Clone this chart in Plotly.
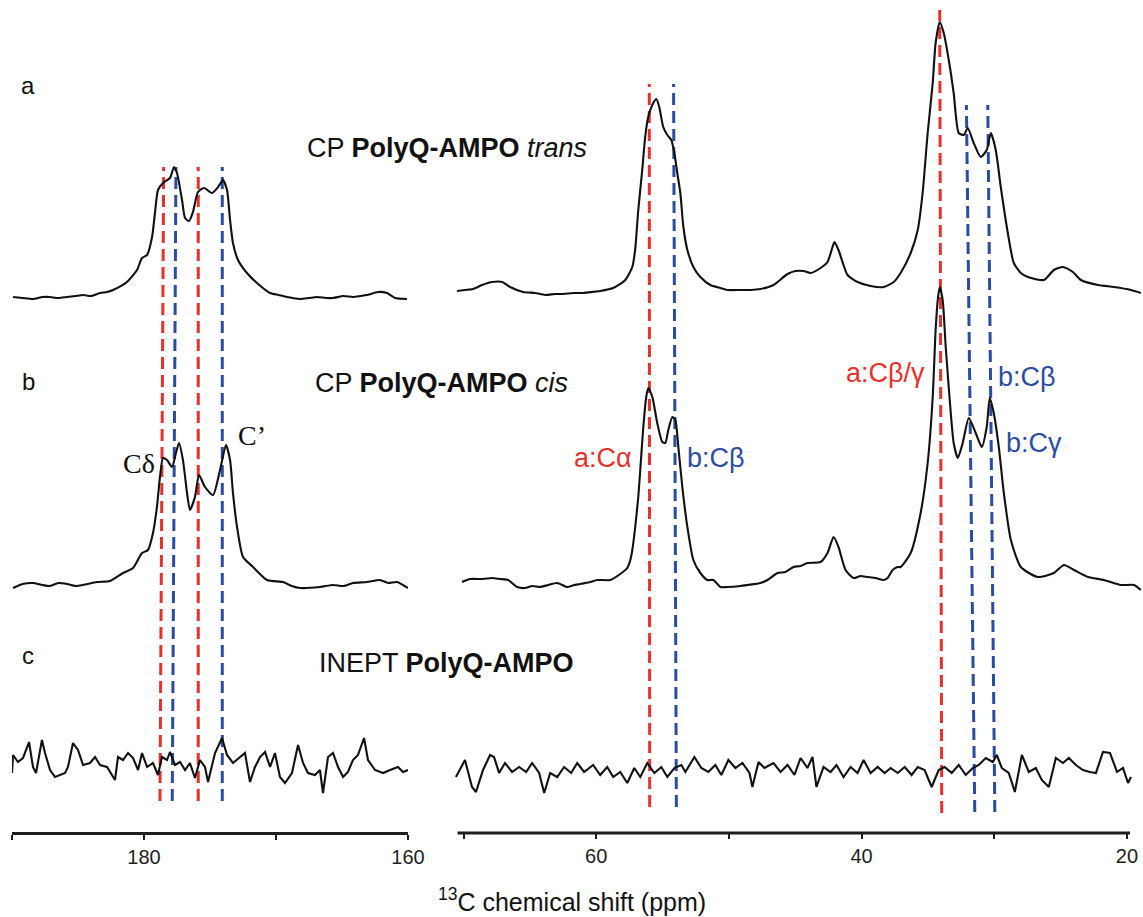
import plotly.graph_objects as go

# ---------------------------------------------------------------------------
# 13C spectra of PolyQ-AMPO (ppm, intensity in arbitrary units above baseline)
# ---------------------------------------------------------------------------

# (a) CP PolyQ-AMPO trans
A_LEFT_PPM = [189.92, 189.2, 188.41, 187.7, 187.12, 186.5, 185.83, 185.2, 184.62, 184.0, 183.33, 182.8,
              182.35, 181.29, 180.53, 180.15, 179.77, 179.39, 179.17, 178.94, 178.56, 178.03, 177.73,
              177.50, 177.12, 176.89, 176.59, 176.29, 175.91, 175.45, 174.85, 174.39, 174.02, 173.71,
              173.48, 173.26, 172.88, 172.20, 171.44, 170.45, 169.8, 169.17, 168.18, 167.5, 166.89,
              166.2, 165.68, 164.9, 164.17, 163.6, 163.11, 162.27, 161.59, 160.98, 160.08]
A_LEFT_INT = [-1, -2, -3, -1, -1, -2, -1, 0, 1, 0, 3, 4,
              6, 14, 26, 38, 41, 59, 83, 106, 113, 118, 129,
              123, 96, 78, 75, 84, 104, 108, 103, 109, 116, 106,
              76, 53, 36, 23, 13, 3, 1, -1, -3, -2, -1,
              -2, -2, 0, -1, 0, 1, 4, 3, -2, -3]

A_RIGHT_PPM = [70.49, 69.89, 69.28, 68.60, 67.85, 67.09, 66.49, 65.51, 64.60, 63.85, 63.09, 62.49,
               61.74, 60.98, 60.30, 59.70, 58.72, 57.81, 57.28, 57.06, 56.83, 56.53, 56.31, 56.08,
               55.70, 55.47, 55.25, 54.95, 54.64, 54.34, 54.11, 53.89, 53.66, 53.43, 53.13, 52.68,
               52.15, 51.40, 50.64, 50.11, 49.13, 48.38, 47.62, 46.64, 45.58, 44.98, 44.38, 43.85,
               43.09, 42.57, 42.19, 42.04, 41.74, 41.36, 41.06, 40.30, 39.32, 38.34, 37.58, 37.06,
               36.30, 35.77, 35.40, 35.02, 34.64, 34.42, 34.11, 33.81, 33.43, 33.06, 32.68, 32.30,
               32.00, 31.55, 31.02, 30.57, 30.26, 29.89, 29.51, 28.98, 28.53, 28.00, 27.47, 26.26,
               25.51, 24.83, 24.08, 23.47, 22.19, 20.98, 19.70, 18.95]
A_RIGHT_INT = [5, 6, 7, 11, 14, 14, 9, 4, 3, 1, 2, 2,
               3, 3, 4, 5, 8, 16, 29, 47, 86, 126, 159, 179,
               193, 197, 189, 169, 161, 156, 143, 123, 103, 69, 46, 29,
               19, 11, 8, 6, 6, 6, 7, 11, 22, 25, 25, 23,
               28, 34, 49, 54, 46, 31, 21, 14, 10, 9, 14, 23,
               43, 66, 103, 163, 213, 253, 274, 263, 236, 203, 163, 161,
               168, 153, 139, 146, 163, 146, 109, 63, 33, 23, 19, 16,
               26, 29, 24, 16, 11, 9, 6, 3]

# (b) CP PolyQ-AMPO cis
B_LEFT_PPM = [189.92, 189.2, 188.41, 187.7, 187.12, 186.5, 185.83, 185.2, 184.62, 183.56, 182.58, 181.59,
              180.83, 180.15, 179.70, 179.32, 179.02, 178.79, 178.56, 178.26, 177.88, 177.58, 177.35,
              177.05, 176.74, 176.52, 176.14, 175.83, 175.38, 174.77, 174.24, 173.79, 173.48, 173.26,
              172.95, 172.50, 171.74, 170.68, 169.47, 168.8, 168.18, 166.67, 165.68, 164.9, 164.17,
              163.11, 162.12, 161.5, 160.83, 160.0]
B_LEFT_INT = [-4, 0, 1, -1, -2, 1, 0, -2, -1, 2, 3, 11,
              16, 31, 34, 51, 77, 107, 126, 124, 117, 131, 141,
              124, 91, 74, 87, 109, 97, 89, 114, 139, 124, 91,
              57, 27, 17, 4, 2, -2, -4, -3, -1, -2, 1,
              2, 4, 1, 2, -4]

B_RIGHT_PPM = [70.11, 69.51, 68.53, 67.85, 67.25, 66.64, 65.96, 65.36, 64.83, 64.23, 63.62, 62.94,
               62.19, 61.66, 61.21, 60.45, 59.92, 58.94, 58.19, 57.66, 57.43, 57.28, 57.06, 56.83,
               56.68, 56.45, 56.23, 56.08, 55.77, 55.40, 55.02, 54.79, 54.57, 54.26, 54.04, 53.81,
               53.51, 53.13, 52.68, 52.15, 51.62, 51.17, 50.64, 50.11, 49.13, 48.60, 47.62, 47.09,
               46.34, 45.74, 45.13, 44.60, 44.08, 43.09, 42.57, 42.11, 41.74, 41.21, 40.60, 40.08,
               39.55, 38.95, 38.34, 38.04, 37.66, 37.28, 37.06, 36.30, 35.55, 35.02, 34.64, 34.42,
               34.26, 34.11, 33.89, 33.66, 33.28, 33.06, 32.75, 32.38, 31.92, 31.40, 30.94, 30.57,
               30.34, 30.04, 29.66, 29.28, 28.75, 28.00, 26.72, 25.51, 24.75, 24.00, 22.94, 21.74,
               20.46, 19.47, 18.95]
B_RIGHT_INT = [2, 5, 5, 6, 5, 4, -3, -4, -2, -3, -1, 1,
               -3, -1, 0, 2, 4, 4, 10, 16, 24, 34, 57, 87,
               114, 157, 187, 196, 187, 161, 142, 141, 154, 167, 164, 137,
               97, 57, 24, 11, 4, 4, -3, -3, -2, -1, 1, 4,
               11, 12, 17, 18, 21, 22, 31, 47, 37, 14, 6, 8,
               7, 6, 4, 6, 14, 17, 17, 31, 71, 121, 187, 254,
               284, 297, 284, 237, 171, 141, 126, 141, 166, 151, 137, 157,
               186, 171, 137, 91, 44, 17, 7, 11, 19, 14, 7, 4,
               -1, -1, -6]

# (c) INEPT PolyQ-AMPO (noise only)
C_LEFT_PPM = [190.0, 189.92, 189.55, 189.17, 188.71, 188.41, 188.18, 187.73, 187.50, 187.12, 186.74,
              186.36, 185.98, 185.76, 185.38, 185.00, 184.62, 184.09, 183.71, 183.33, 182.80, 182.20,
              181.97, 181.59, 181.21, 180.83, 180.45, 180.15, 179.77, 179.32, 178.94, 178.64, 178.26,
              178.03, 177.65, 177.27, 176.89, 176.52, 176.14, 175.76, 175.38, 175.15, 174.62, 174.09,
              173.71, 173.26, 172.73, 172.35, 171.97, 171.59, 171.21, 170.83, 170.45, 170.08, 169.70,
              169.32, 168.79, 168.33, 167.95, 167.58, 167.05, 166.67, 166.44, 166.06, 165.68, 165.30,
              164.92, 164.55, 164.17, 163.79, 163.33, 163.03, 162.50, 161.89, 161.36, 160.76, 160.38,
              160.0]
C_LEFT_INT = [-3, 15, 8, 12, 28, 3, -3, 30, 17, 0, -7,
              -5, -3, 3, 27, 20, 5, 7, 13, 5, 3, -10,
              13, 10, 17, 12, 0, 17, 3, 7, -5, 13, 10,
              18, 5, 8, 0, 7, -8, 10, 3, -12, 17, 32,
              15, 7, 13, 17, -12, 3, 13, 18, 3, 17, -7,
              -13, -3, 25, 7, -3, -5, 0, -23, 13, 17, 3,
              -7, -2, 10, 15, 32, 10, 0, -3, 0, 3, -2,
              0]

C_RIGHT_PPM = [70.57, 69.89, 69.36, 69.06, 68.53, 68.00, 67.70, 67.32, 66.87, 66.34, 65.81, 65.28,
               64.83, 64.30, 63.92, 63.47, 62.94, 62.42, 61.89, 61.43, 60.91, 60.23, 59.70, 59.17,
               58.72, 58.19, 57.66, 57.13, 56.68, 56.15, 55.62, 55.09, 54.64, 54.11, 53.58, 53.28,
               52.60, 52.08, 51.55, 51.02, 50.57, 50.04, 49.51, 48.98, 48.45, 48.23, 47.77, 47.32,
               46.64, 46.11, 45.58, 45.06, 44.60, 44.08, 43.70, 43.40, 42.87, 42.34, 41.89, 41.36,
               40.83, 40.30, 39.85, 39.32, 38.79, 38.26, 37.81, 37.28, 36.75, 36.23, 35.77, 35.25,
               34.72, 34.19, 33.74, 33.21, 32.68, 32.15, 31.62, 31.17, 30.64, 30.11, 29.81, 29.43,
               28.91, 28.45, 27.92, 27.40, 26.87, 26.42, 25.89, 25.36, 24.83, 24.38, 23.85, 23.32,
               22.79, 22.34, 21.81, 21.28, 20.75, 20.30, 19.92, 19.70]
C_RIGHT_INT = [-7, 10, -17, -22, 0, 15, 13, -3, 7, -2, 3, -2,
               7, -3, -23, -3, -7, 3, -3, 7, -2, 5, -5, 3,
               -7, -2, -13, 2, -7, 7, -3, 3, -7, 2, 5, -2,
               13, 2, -2, 5, -5, 10, 2, 7, -3, -17, 8, 2,
               7, -2, 5, -5, 12, 2, 13, -17, 3, -2, 5, -7,
               3, -3, 10, -3, 3, -3, 2, -3, 3, -5, 3, 0,
               -17, 0, 3, -3, 5, -5, 2, 5, 12, 8, 15, 2,
               -3, -22, 15, -2, 2, -10, -17, 12, 7, 12, 5, 0,
               -2, -3, 18, 17, -2, 2, -13, -7]

# vertical offsets that stack the three spectra
OFFSETS = {"a": 537, "b": 249, "c": 63}

# assignment guides: ppm at the top and bottom end, vertical extent, colour
RED, BLUE = "#e5322c", "#2c4c9f"
GUIDES_LEFT = [  # (ppm_top, ppm_bottom, y_bottom, y_top, colour)
    (178.51, 178.79, 32, 666, RED),
    (177.58, 177.86, 32, 666, BLUE),
    (175.89, 175.89, 32, 666, RED),
    (174.07, 174.07, 32, 666, BLUE),
]
GUIDES_RIGHT = [
    (56.00, 55.97, 26, 749, RED),
    (54.17, 53.96, 26, 749, BLUE),
    (34.11, 33.96, 20, 823, RED),
    (32.10, 31.47, 21, 728, BLUE),
    (30.49, 29.96, 21, 728, BLUE),
]

# labelled and unlabelled tick positions of the two ppm scales
LEFT_TICKS = [180, 160]
LEFT_MINOR_TICKS = [190, 170]
RIGHT_TICKS = [60, 40, 20]
RIGHT_MINOR_TICKS = [70, 50, 30]

W, H = 1143, 917
PLOT_H = 843          # height of the plotting area (px)
AXIS_Y = 833          # pixel row of the ppm axis
SANS = "Liberation Sans, Arial, Helvetica, sans-serif"
SERIF = "Liberation Serif, Times New Roman, serif"
INK = "#1e1e1e"

fig = go.Figure()


def add_spectrum(ppm, inten, offset, xaxis, smooth=True):
    line = dict(color="#111111", width=2.1)
    if smooth:
        line.update(shape="spline", smoothing=0.6)
    fig.add_trace(go.Scatter(
        x=ppm, y=[offset + v for v in inten], mode="lines", line=line,
        xaxis=xaxis, yaxis="y", showlegend=False, hoverinfo="skip",
    ))


add_spectrum(A_LEFT_PPM, A_LEFT_INT, OFFSETS["a"], "x")
add_spectrum(A_RIGHT_PPM, A_RIGHT_INT, OFFSETS["a"], "x2")
add_spectrum(B_LEFT_PPM, B_LEFT_INT, OFFSETS["b"], "x")
add_spectrum(B_RIGHT_PPM, B_RIGHT_INT, OFFSETS["b"], "x2")
add_spectrum(C_LEFT_PPM, C_LEFT_INT, OFFSETS["c"], "x", smooth=False)
add_spectrum(C_RIGHT_PPM, C_RIGHT_INT, OFFSETS["c"], "x2", smooth=False)

shapes = []
for guides, xref in ((GUIDES_LEFT, "x"), (GUIDES_RIGHT, "x2")):
    for p_top, p_bot, y_bot, y_top, col in guides:
        shapes.append(dict(type="line", xref=xref, yref="y", x0=p_bot, x1=p_top,
                           y0=y_bot, y1=y_top, layer="below",
                           line=dict(color=col, width=3, dash="12px,6px")))

# baseline of the right-hand ppm scale
shapes.append(dict(type="line", xref="x2", yref="y", x0=70.45, x1=19.77, y0=0, y1=0,
                   line=dict(color=INK, width=3)))


def paper(px, py):
    return px / W, (PLOT_H - py) / PLOT_H


annotations = []


def label(text, px, py, size=24, color="#111111", family=SANS, xanchor="center"):
    x, y = paper(px, py)
    annotations.append(dict(text=text, x=x, y=y, xref="paper", yref="paper",
                            xanchor=xanchor, yanchor="middle", showarrow=False,
                            font=dict(family=family, size=size, color=color)))


label("a", 28, 85, size=24)
label("b", 28, 381, size=24)
label("c", 28, 655, size=24)
label("CP <b>PolyQ-AMPO</b> <i>trans</i>", 447, 148, size=27)
label("CP <b>PolyQ-AMPO</b> <i>cis</i>", 441, 383, size=27)
label("INEPT <b>PolyQ-AMPO</b>", 446, 663, size=27)
label("Cδ", 139, 463, size=28, family=SERIF)
label("C’", 252, 435, size=28, family=SERIF)
label("a:Cα", 603, 458, size=27, color=RED)
label("b:Cβ", 716, 458, size=27, color=BLUE)
label("a:Cβ/γ", 885, 373, size=27, color=RED)
label("b:Cβ", 1027, 377, size=27, color=BLUE)
label("b:Cγ", 1034, 443, size=27, color=BLUE)
label("<sup>13</sup>C chemical shift (ppm)", 572, 900, size=25)

tick_common = dict(
    anchor="free", position=(PLOT_H - AXIS_Y) / PLOT_H, automargin=False,
    ticks="outside", ticklen=5, tickwidth=2, tickcolor=INK,
    showgrid=False, zeroline=False, fixedrange=True,
    tickfont=dict(family=SANS, size=20, color=INK),
)

fig.update_layout(
    width=W, height=H, autosize=False,
    margin=dict(l=0, r=0, t=0, b=H - PLOT_H, pad=0, autoexpand=False),
    paper_bgcolor="white", plot_bgcolor="white",
    xaxis=dict(domain=[12 / W, 408 / W], range=[190, 160],
               showline=True, linewidth=3, linecolor=INK,
               tickmode="array", tickvals=LEFT_TICKS,
               minor=dict(tickmode="array", tickvals=LEFT_MINOR_TICKS, ticks="outside",
                          ticklen=5, tickwidth=2, tickcolor=INK, showgrid=False),
               **tick_common),
    xaxis2=dict(domain=[452 / W, 1.0], range=[70.868, 18.792], showline=False,
                tickmode="array", tickvals=RIGHT_TICKS,
                minor=dict(tickmode="array", tickvals=RIGHT_MINOR_TICKS, ticks="outside",
                           ticklen=5, tickwidth=2, tickcolor=INK, showgrid=False),
                **tick_common),
    yaxis=dict(domain=[0, 1], range=[-10, AXIS_Y], visible=False, fixedrange=True,
               automargin=False),
    shapes=shapes,
    annotations=annotations,
    showlegend=False,
)

fig.write_html("out.html")
